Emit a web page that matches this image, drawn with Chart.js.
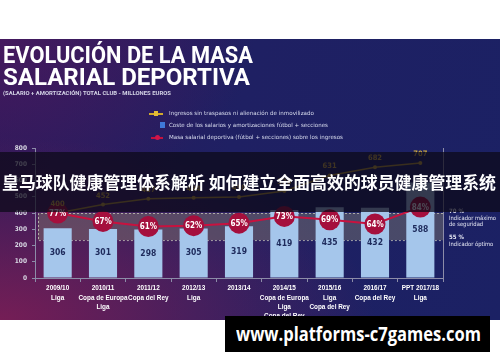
<!DOCTYPE html>
<html>
<head>
<meta charset="UTF-8">
<title>Evolución de la masa salarial deportiva</title>
<script src="https://cdn.jsdelivr.net/npm/chart.js"></script>
<style>
  html, body { margin: 0; padding: 0; background: #fff; }
  body { width: 500px; height: 362px; position: relative; overflow: hidden; font-family: Roboto, Arial, sans-serif; }
  #panel {
    position: absolute; left: 0; top: 39px; width: 500px; height: 281px;
    background:
      radial-gradient(ellipse 75% 65% at 0% 100%, rgba(125, 30, 85, 0.9), rgba(125, 30, 85, 0) 100%),
      radial-gradient(ellipse 50% 60% at 0% 0%, rgba(75, 25, 95, 0.8), rgba(75, 25, 95, 0) 100%),
      linear-gradient(105deg, #2c1a5a 0%, #1f2063 45%, #1b2164 100%);
  }
  #chartBox { position: absolute; left: 0; top: 0; width: 500px; height: 362px; }
  .fit { position: absolute; white-space: nowrap; transform-origin: 0 0; display: inline-block; }
  .title { left: 3px; color: #fff; font-weight: 700; font-size: 23px; line-height: 23px; }
  #sub { left: 3px; top: 90px; color: #d4d4e6; font-weight: 700; font-size: 5px; line-height: 6px; }
  .leg { left: 169px; color: #d8dcee; font-size: 5.6px; line-height: 7px; font-family: "DejaVu Sans", sans-serif; }
  .mark { position: absolute; }
  #banner { position: absolute; left: 0; top: 152px; width: 500px; height: 60px; background: rgba(12, 10, 24, 0.74); }
  #bannerText { left: 2px; top: 171px; color: #fff; font-weight: 700; font-size: 17px; line-height: 22px;
    font-family: "Noto Sans CJK SC", sans-serif; }
  #wm { position: absolute; left: 225px; top: 316px; width: 265px; height: 36px; background: #000; }
  #wmText { left: 236px; top: 322px; color: #fff; font-weight: 700; font-size: 19px; line-height: 24px;
    font-family: "Open Sans", sans-serif; }
</style>
</head>
<body>
  <div id="panel"></div>
  <div id="chartBox"><canvas id="chart"></canvas></div>

  <div class="fit title" style="top:44px" data-w="250">EVOLUCIÓN DE LA MASA</div>
  <div class="fit title" style="top:66px" data-w="247">SALARIAL DEPORTIVA</div>
  <div class="fit" id="sub" data-w="168">(SALARIO + AMORTIZACIÓN) TOTAL CLUB - MILLONES EUROS</div>

  <div class="mark" style="left:149px;top:113px;width:14px;height:1.5px;background:#d1a92c"></div>
  <div class="mark" style="left:154px;top:111px;width:4px;height:5px;background:#e3bb35"></div>
  <div class="fit leg" style="top:110px" data-w="145">Ingresos sin traspasos ni alienación de inmovilizado</div>
  <div class="mark" style="left:160px;top:122px;width:5px;height:6px;background:#3f79d8"></div>
  <div class="fit leg" style="top:122px" data-w="159">Coste de los salarios y amortizaciones fútbol + secciones</div>
  <div class="mark" style="left:151px;top:137px;width:12px;height:1.5px;background:#c4123e"></div>
  <div class="mark" style="left:155px;top:135px;width:5px;height:5px;border-radius:50%;background:#d0154a"></div>
  <div class="fit leg" style="top:134px" data-w="174">Masa salarial deportiva (fútbol + secciones) sobre los ingresos</div>

  <div id="banner"></div>
  <div class="fit" id="bannerText" data-w="494">皇马球队健康管理体系解析 如何建立全面高效的球员健康管理系统</div>

  <div id="wm"></div>
  <div class="fit" id="wmText" data-w="245">www.platforms-c7games.com</div>

  <script>
    // seasons and titles won
    const seasons = ['2009/10', '2010/11', '2011/12', '2012/13', '2013/14', '2014/15', '2015/16', '2016/17', 'PPT 2017/18'];
    const titlesWon = [
      ['Liga'],
      ['Copa de Europa', 'Liga'],
      ['Copa del Rey'],
      ['Liga'],
      [],
      ['Copa de Europa', 'Liga', 'Copa del Rey'],
      ['Liga', 'Copa del Rey'],
      ['Copa del Rey'],
      ['Liga']
    ];
    // millones de euros
    const salaryCost = [306, 301, 298, 305, 319, 419, 435, 432, 588];
    const revenue = [400, 452, 487, 494, 498, 536, 631, 682, 707];
    // % masa salarial sobre ingresos
    const salaryRatio = [77, 67, 61, 62, 65, 73, 69, 64, 84];
    const safetyMax = 70;
    const optimal = 55;
    const yMax = 800;
    const yStep = 100;

    // fit overlay texts to the measured widths
    document.querySelectorAll('.fit').forEach(el => {
      const w = el.getBoundingClientRect().width;
      el.style.transform = 'scaleX(' + (el.dataset.w / w) + ')';
    });

    const condensed = '"DejaVu Sans Condensed", "Liberation Sans Narrow", Arial, sans-serif';

    const decor = {
      id: 'decor',
      beforeDatasetsDraw(chart) {
        const { ctx, chartArea } = chart;
        const yb = chart.scales.yBand;
        const top = yb.getPixelForValue(safetyMax);
        const bottom = yb.getPixelForValue(optimal);
        const left = chartArea.left + 3;
        ctx.save();
        ctx.fillStyle = 'rgba(135, 130, 112, 0.42)';
        ctx.fillRect(left, top, chartArea.right - left, bottom - top);
        ctx.strokeStyle = 'rgba(205, 205, 190, 0.75)';
        ctx.lineWidth = 1;
        ctx.setLineDash([2, 2]);
        ctx.beginPath();
        ctx.moveTo(chartArea.right, top + 0.5);
        ctx.lineTo(left + 0.5, top + 0.5);
        ctx.lineTo(left + 0.5, bottom + 0.5);
        ctx.lineTo(chartArea.right, bottom + 0.5);
        ctx.stroke();
        ctx.restore();
      },
      afterDatasetsDraw(chart) {
        const { ctx, chartArea } = chart;
        ctx.save();
        ctx.textAlign = 'center';
        ctx.textBaseline = 'middle';

        // bar values
        ctx.fillStyle = '#1e2b5c';
        ctx.font = 'bold 8.5px ' + condensed;
        chart.getDatasetMeta(0).data.forEach((el, i) => {
          ctx.fillText(salaryCost[i], el.x, (el.y + el.base) / 2);
        });

        // revenue labels
        ctx.fillStyle = '#d2ac3c';
        ctx.font = 'bold 7.5px ' + condensed;
        chart.getDatasetMeta(1).data.forEach((el, i) => {
          ctx.fillText(revenue[i], el.x, el.y - 9);
        });

        // ratio labels in circles
        ctx.fillStyle = '#fff';
        ctx.font = 'bold 8px ' + condensed;
        chart.getDatasetMeta(2).data.forEach((el, i) => {
          ctx.fillText(salaryRatio[i] + '%', el.x, el.y + 0.5);
        });

        // right side notes
        const yb = chart.scales.yBand;
        const x = chartArea.right + 6;
        const t = yb.getPixelForValue(safetyMax);
        const b = yb.getPixelForValue(optimal);
        ctx.textAlign = 'left';
        ctx.fillStyle = '#e6e8f4';
        ctx.font = 'bold 6px ' + condensed;
        ctx.fillText(safetyMax + ' %', x, t - 2);
        ctx.fillText(optimal + ' %', x, b - 3);
        ctx.font = '5.8px ' + condensed;
        ctx.fillText('Indicador máximo', x, t + 5);
        ctx.fillText('de seguridad', x, t + 11);
        ctx.fillText('Indicador óptimo', x, b + 4);
        ctx.restore();
      }
    };

    new Chart(document.getElementById('chart'), {
      type: 'bar',
      data: {
        labels: seasons.map((s, i) => [s].concat(titlesWon[i])),
        datasets: [
          {
            label: 'Coste de los salarios y amortizaciones fútbol + secciones',
            data: salaryCost,
            backgroundColor: '#a5c6eb',
            categoryPercentage: 1,
            barPercentage: 0.62,
            yAxisID: 'y',
            order: 3
          },
          {
            type: 'line',
            label: 'Ingresos sin traspasos ni alienación de inmovilizado',
            data: revenue,
            borderColor: '#b8982c',
            borderWidth: 1.5,
            pointRadius: 2,
            pointBackgroundColor: '#c9a532',
            pointBorderWidth: 0,
            tension: 0,
            yAxisID: 'y',
            order: 2
          },
          {
            type: 'line',
            label: 'Masa salarial deportiva (fútbol + secciones) sobre los ingresos',
            data: salaryRatio,
            borderColor: '#c8123f',
            borderWidth: 2,
            pointRadius: 10.5,
            pointBackgroundColor: '#a50f3d',
            pointBorderWidth: 0,
            tension: 0,
            yAxisID: 'yPct',
            order: 1
          }
        ]
      },
      options: {
        responsive: true,
        maintainAspectRatio: false,
        animation: false,
        layout: { padding: { top: 148, left: 0, right: 0, bottom: 0 } },
        plugins: { legend: { display: false }, tooltip: { enabled: false } },
        scales: {
          x: {
            offset: true,
            grid: { display: true, drawOnChartArea: false, offset: true, tickLength: 4, color: '#8c8ca8' },
            border: { color: '#8c8ca8' },
            ticks: {
              color: '#ffffff',
              font: { family: 'Arial, "Liberation Sans", sans-serif', size: 6.4, weight: 'bold', lineHeight: 1.45 },
              padding: 2,
              maxRotation: 0,
              autoSkip: false
            },
            afterFit: s => { s.height = 84; }
          },
          y: {
            position: 'left',
            min: 0,
            max: yMax,
            ticks: {
              stepSize: yStep,
              color: '#d8d8e4',
              font: { family: condensed, size: 6.5, weight: 'bold' },
              padding: 5
            },
            grid: { drawOnChartArea: false, tickLength: 3, color: '#8c8ca8' },
            border: { color: '#8c8ca8' },
            afterFit: s => { s.width = 35; }
          },
          yPct: {
            position: 'right',
            min: 0,
            max: 154,
            ticks: { display: false },
            grid: { drawOnChartArea: false, drawTicks: false },
            border: { color: '#8c8ca8' },
            afterFit: s => { s.width = 57; }
          },
          yBand: {
            display: false,
            min: 34,
            max: 106
          }
        }
      },
      plugins: [decor]
    });
  </script>
</body>
</html>
